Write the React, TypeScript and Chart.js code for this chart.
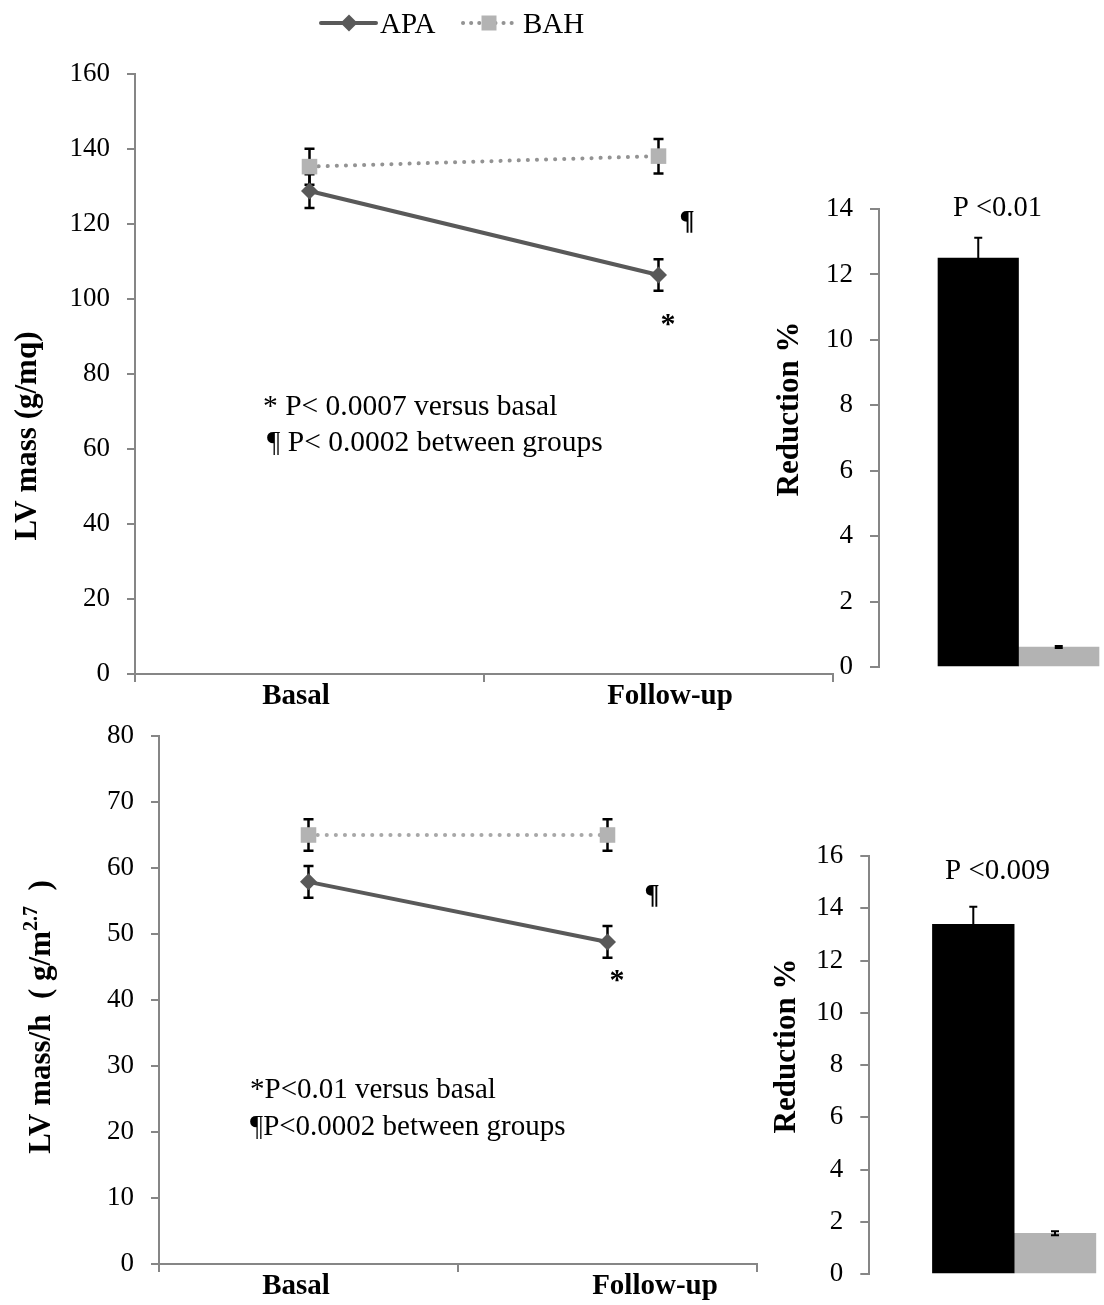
import React, { useEffect, useRef } from 'react';
import { Chart, registerables } from 'chart.js';

Chart.register(...registerables);

// ---------- data ----------
const timepoints = ['Basal', 'Follow-up'];
const seriesNames = ['APA', 'BAH'];
const reductionLabel = ['Reduction %'];

const lvMassAPA = [128.8, 106.4];
const lvMassAPAErr = [4.5, 4.2];
const lvMassBAH = [135.3, 138.1];
const lvMassBAHErr = [4.8, 4.6];

const lvMassHAPA = [57.9, 48.8];
const lvMassHAPAErr = [2.4, 2.4];
const lvMassHBAH = [65.0, 65.0];
const lvMassHBAHErr = [2.4, 2.4];

const reductionMass = [12.5, 0.61];
const reductionMassErr = [0.62, 0.03];
const reductionMassH = [13.38, 1.56];
const reductionMassHErr = [0.68, 0.08];

const massAxis = { min: 0, max: 160, step: 20 };
const massHAxis = { min: 0, max: 80, step: 10 };
const redAxis1 = { min: 0, max: 14, step: 2 };
const redAxis2 = { min: 0, max: 16, step: 2 };

const pValueMass = 'P <0.01';
const pValueMassH = 'P <0.009';

// ---------- styles ----------
const FAMILY = "'Liberation Serif', 'Times New Roman', serif";
const AXIS_GRAY = '#868686';
const APA_COLOR = '#595959';
const BAH_COLOR = '#b3b3b3';

const errorBarPlugin = {
  id: 'errorBarsCustom',
  beforeDatasetsDraw(chart: any) {
    if (chart.config.type === 'line') drawErrors(chart);
  },
  afterDatasetsDraw(chart: any) {
    if (chart.config.type === 'bar') drawErrors(chart);
  },
};

function drawErrors(chart: any) {
  const ctx = chart.ctx;
  const y = chart.scales.y;
  chart.data.datasets.forEach((ds: any, di: number) => {
    const errs = ds.errors;
    if (!errs) return;
    const meta = chart.getDatasetMeta(di);
    const cap = ds.errorCap ?? 5;
    meta.data.forEach((el: any, i: number) => {
      const v = ds.data[i];
      const x = el.x;
      const yt = y.getPixelForValue(v + errs[i]);
      const yb = y.getPixelForValue(v - errs[i]);
      ctx.save();
      ctx.strokeStyle = '#000';
      ctx.lineWidth = ds.errorWidth ?? 2;
      ctx.beginPath();
      ctx.moveTo(x, yt);
      ctx.lineTo(x, yb);
      ctx.moveTo(x - cap, yt);
      ctx.lineTo(x + cap, yt);
      ctx.moveTo(x - cap, yb);
      ctx.lineTo(x + cap, yb);
      ctx.stroke();
      ctx.restore();
    });
  });
}

function text(ctx: any, s: string, x: number, y: number, font: string, align: any = 'left', baseline: any = 'middle') {
  ctx.save();
  ctx.font = font;
  ctx.fillStyle = '#000';
  ctx.textAlign = align;
  ctx.textBaseline = baseline;
  ctx.fillText(s, x, y);
  ctx.restore();
}

function rotatedText(ctx: any, s: string, x: number, y: number, font: string) {
  ctx.save();
  ctx.translate(x, y);
  ctx.rotate(-Math.PI / 2);
  ctx.font = font;
  ctx.fillStyle = '#000';
  ctx.textAlign = 'center';
  ctx.textBaseline = 'alphabetic';
  ctx.fillText(s, 0, 0);
  ctx.restore();
}

function rotatedSupText(ctx: any, parts: { t: string; sup?: boolean }[], x: number, y: number, size: number, supSize: number) {
  ctx.save();
  ctx.translate(x, y);
  ctx.rotate(-Math.PI / 2);
  ctx.fillStyle = '#000';
  ctx.textBaseline = 'alphabetic';
  ctx.textAlign = 'left';
  const fonts = parts.map((p) => `bold ${p.sup ? supSize : size}px ${FAMILY}`);
  let total = 0;
  const widths = parts.map((p, i) => {
    ctx.font = fonts[i];
    const w = ctx.measureText(p.t).width;
    total += w;
    return w;
  });
  let cx = -total / 2;
  parts.forEach((p, i) => {
    ctx.font = fonts[i];
    ctx.fillText(p.t, cx, p.sup ? -size * 0.42 : 0);
    cx += widths[i];
  });
  ctx.restore();
}

function drawDiamond(ctx: any, x: number, y: number, r: number, color: string) {
  ctx.save();
  ctx.fillStyle = color;
  ctx.beginPath();
  ctx.moveTo(x, y - r);
  ctx.lineTo(x + r, y);
  ctx.lineTo(x, y + r);
  ctx.lineTo(x - r, y);
  ctx.closePath();
  ctx.fill();
  ctx.restore();
}

const yTickFont = { family: FAMILY, size: 27, lineHeight: 0.2 };

function lineConfig(opts: {
  apa: number[]; apaErr: number[]; bah: number[]; bahErr: number[]; bahLine: string;
  axis: { min: number; max: number; step: number };
  padding: any; yWidth: number; xHeight: number; draw: (ctx: any) => void;
}) {
  return {
    type: 'line',
    data: {
      labels: timepoints,
      datasets: [
        {
          label: seriesNames[0],
          data: opts.apa,
          errors: opts.apaErr,
          errorCap: 5,
          errorWidth: 2.5,
          borderColor: APA_COLOR,
          backgroundColor: APA_COLOR,
          borderWidth: 4,
          pointStyle: 'rectRot',
          pointRadius: 8.5,
          pointBackgroundColor: APA_COLOR,
          pointBorderColor: APA_COLOR,
          pointBorderWidth: 0,
          tension: 0,
        },
        {
          label: seriesNames[1],
          data: opts.bah,
          errors: opts.bahErr,
          errorCap: 5,
          errorWidth: 2.5,
          borderColor: opts.bahLine,
          backgroundColor: BAH_COLOR,
          borderWidth: 4,
          borderDash: [0.1, 9],
          borderCapStyle: 'round',
          pointStyle: 'rect',
          pointRadius: 11,
          pointBackgroundColor: BAH_COLOR,
          pointBorderColor: BAH_COLOR,
          pointBorderWidth: 0,
          tension: 0,
        },
      ],
    },
    options: {
      responsive: false,
      animation: false,
      layout: { padding: opts.padding },
      plugins: { legend: { display: false }, tooltip: { enabled: false } },
      scales: {
        x: {
          type: 'category',
          offset: true,
          grid: { offset: true, drawOnChartArea: false, tickLength: 8, color: AXIS_GRAY, lineWidth: 2 },
          border: { color: AXIS_GRAY, width: 2 },
          ticks: { display: false },
          afterFit: (s: any) => { s.height = opts.xHeight; },
        },
        y: {
          min: opts.axis.min,
          max: opts.axis.max,
          grid: { drawOnChartArea: false, tickLength: 8, color: AXIS_GRAY, lineWidth: 2 },
          border: { color: AXIS_GRAY, width: 2 },
          ticks: { stepSize: opts.axis.step, color: '#000', padding: 17, font: yTickFont },
          afterFit: (s: any) => { s.width = opts.yWidth; },
        },
      },
    },
    plugins: [errorBarPlugin, { id: 'texts', afterDraw: (c: any) => opts.draw(c.ctx) }],
  };
}

function barConfig(opts: {
  values: number[]; errs: number[]; axis: { min: number; max: number; step: number };
  padding: any; yWidth: number; thickness: number; draw: (ctx: any) => void;
}) {
  const colors = ['#000000', BAH_COLOR];
  return {
    type: 'bar',
    data: {
      labels: reductionLabel,
      datasets: seriesNames.map((name, i) => ({
        label: name,
        data: [opts.values[i]],
        errors: [opts.errs[i]],
        errorCap: 4,
        errorWidth: 2,
        backgroundColor: colors[i],
        borderWidth: 0,
        barThickness: opts.thickness,
      })),
    },
    options: {
      responsive: false,
      animation: false,
      layout: { padding: opts.padding },
      plugins: { legend: { display: false }, tooltip: { enabled: false } },
      scales: {
        x: { type: 'category', display: false },
        y: {
          min: opts.axis.min,
          max: opts.axis.max,
          grid: { drawOnChartArea: false, tickLength: 9, color: AXIS_GRAY, lineWidth: 2 },
          border: { color: AXIS_GRAY, width: 2 },
          ticks: { stepSize: opts.axis.step, color: '#000', padding: 17, font: yTickFont },
          afterFit: (s: any) => { s.width = opts.yWidth; },
        },
      },
    },
    plugins: [errorBarPlugin, { id: 'texts', afterDraw: (c: any) => opts.draw(c.ctx) }],
  };
}

function ChartCanvas({ config, left, top, width, height }: any) {
  const ref = useRef<HTMLCanvasElement | null>(null);
  useEffect(() => {
    if (!ref.current) return;
    const chart = new Chart(ref.current, config);
    return () => chart.destroy();
  }, []);
  return (
    <canvas
      ref={ref}
      width={width}
      height={height}
      style={{ position: 'absolute', left, top, width, height }}
    />
  );
}

export default function App() {
  const reg = (s: number) => `${s}px ${FAMILY}`;
  const bold = (s: number) => `bold ${s}px ${FAMILY}`;

  // Top-left line chart: canvas at (0,0) 845x715
  const cfgA = lineConfig({
    apa: lvMassAPA, apaErr: lvMassAPAErr, bah: lvMassBAH, bahErr: lvMassBAHErr, bahLine: '#939393',
    axis: massAxis,
    padding: { left: 0, right: 12, top: 74, bottom: 0 },
    yWidth: 135, xHeight: 41,
    draw: (ctx) => {
      // legend
      ctx.save();
      ctx.strokeStyle = APA_COLOR;
      ctx.lineWidth = 4;
      ctx.lineCap = 'round';
      ctx.beginPath();
      ctx.moveTo(321, 23);
      ctx.lineTo(376, 23);
      ctx.stroke();
      ctx.restore();
      drawDiamond(ctx, 349, 23, 8.5, APA_COLOR);
      text(ctx, seriesNames[0], 380, 25, reg(29));
      ctx.save();
      ctx.strokeStyle = '#939393';
      ctx.lineWidth = 4;
      ctx.lineCap = 'round';
      ctx.setLineDash([0.1, 8]);
      ctx.beginPath();
      ctx.moveTo(463, 23);
      ctx.lineTo(512, 23);
      ctx.stroke();
      ctx.restore();
      ctx.save();
      ctx.fillStyle = BAH_COLOR;
      ctx.fillRect(481.5, 15.5, 15, 15);
      ctx.restore();
      text(ctx, seriesNames[1], 523, 25, reg(29));
      // category labels
      text(ctx, timepoints[0], 296, 697, bold(29), 'center');
      text(ctx, timepoints[1], 670, 697, bold(29), 'center');
      // axis title
      rotatedText(ctx, 'LV mass (g/mq)', 36, 436, bold(31));
      // annotations
      text(ctx, '* P< 0.0007 versus basal', 263, 407, reg(29.5));
      text(ctx, '¶ P< 0.0002 between groups', 267, 443, reg(29.5));
      text(ctx, '¶', 687, 222, bold(28), 'center');
      text(ctx, '*', 668, 325, bold(30), 'center');
    },
  });

  // Top-right bar chart: canvas at (760,180)
  const cfgB = barConfig({
    values: reductionMass, errs: reductionMassErr, axis: redAxis1,
    padding: { left: 0, right: 0, top: 29, bottom: 23 },
    yWidth: 119, thickness: 80.5,
    draw: (ctx) => {
      text(ctx, pValueMass, 237.5, 208.5 - 180, reg(28.5), 'center');
      rotatedText(ctx, 'Reduction %', 798 - 760, 409 - 180, bold(31));
    },
  });

  // Bottom-left line chart: canvas at (0,715) 770x590
  const cfgC = lineConfig({
    apa: lvMassHAPA, apaErr: lvMassHAPAErr, bah: lvMassHBAH, bahErr: lvMassHBAHErr, bahLine: '#a8a8a8',
    axis: massHAxis,
    padding: { left: 0, right: 13, top: 21, bottom: 0 },
    yWidth: 159, xHeight: 41,
    draw: (ctx) => {
      text(ctx, timepoints[0], 296, 1287 - 715, bold(29), 'center');
      text(ctx, timepoints[1], 655, 1287 - 715, bold(29), 'center');
      rotatedSupText(
        ctx,
        [{ t: 'LV mass/h  ( g/m' }, { t: '2.7', sup: true }, { t: '  )' }],
        50, 1017 - 715, 31, 20
      );
      text(ctx, '*P<0.01 versus basal', 250, 1090 - 715, reg(29));
      text(ctx, '¶P<0.0002 between groups', 250, 1127 - 715, reg(29));
      text(ctx, '¶', 652, 896 - 715, bold(28), 'center');
      text(ctx, '*', 617, 981 - 715, bold(30), 'center');
    },
  });

  // Bottom-right bar chart: canvas at (760,830)
  const cfgD = barConfig({
    values: reductionMassH, errs: reductionMassHErr, axis: redAxis2,
    padding: { left: 0, right: 0, top: 26, bottom: 26 },
    yWidth: 109.3, thickness: 81.7,
    draw: (ctx) => {
      text(ctx, pValueMassH, 237.5, 871 - 830, reg(29), 'center');
      rotatedText(ctx, 'Reduction %', 795 - 760, 1046 - 830, bold(31));
    },
  });

  return (
    <div style={{ position: 'absolute', left: 0, top: 0, width: 1104, height: 1305, overflow: 'hidden', background: '#fff' }}>
      <ChartCanvas config={cfgA} left={0} top={0} width={845} height={715} />
      <ChartCanvas config={cfgB} left={760} top={180} width={398} height={510} />
      <ChartCanvas config={cfgC} left={0} top={715} width={770} height={590} />
      <ChartCanvas config={cfgD} left={760} top={830} width={399} height={470} />
    </div>
  );
}
